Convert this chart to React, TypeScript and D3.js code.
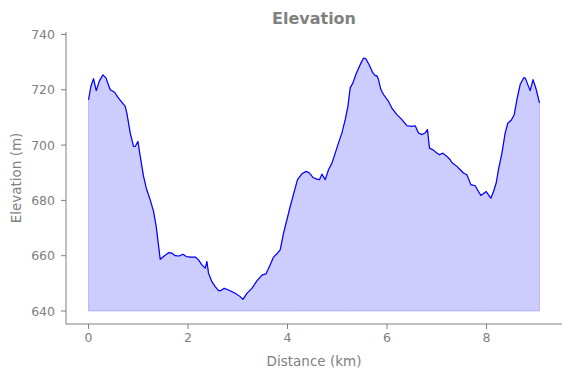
import React from "react";
import * as d3 from "d3";

const distanceKm = [
  0, 0.048, 0.10, 0.155, 0.221, 0.289, 0.35, 0.436, 0.523, 0.603, 0.738, 0.772, 0.838, 0.905, 0.939, 0.993,
  1.039, 1.106, 1.16, 1.24, 1.307, 1.361, 1.441, 1.508, 1.608, 1.676, 1.743, 1.823, 1.897, 1.964, 2.044,
  2.145, 2.211, 2.279, 2.346, 2.38, 2.412, 2.48, 2.547, 2.613, 2.661, 2.728, 2.814, 2.949, 3.049, 3.104,
  3.184, 3.284, 3.385, 3.485, 3.566, 3.652, 3.719, 3.799, 3.853, 3.92, 3.988, 4.054, 4.135, 4.201, 4.289,
  4.376, 4.442, 4.511, 4.591, 4.643, 4.692, 4.758, 4.824, 4.893, 4.959, 5.025, 5.094, 5.16, 5.214, 5.26,
  5.315, 5.381, 5.461, 5.528, 5.576, 5.648, 5.717, 5.763, 5.797, 5.829, 5.877, 5.93, 6.03, 6.098, 6.199,
  6.3, 6.4, 6.501, 6.567, 6.633, 6.702, 6.768, 6.814, 6.854, 6.923, 7.003, 7.055, 7.124, 7.204, 7.27,
  7.305, 7.405, 7.471, 7.538, 7.606, 7.686, 7.773, 7.839, 7.887, 7.994, 8.04, 8.088, 8.141, 8.195, 8.241,
  8.31, 8.376, 8.43, 8.497, 8.557, 8.611, 8.677, 8.746, 8.778, 8.878, 8.936, 9.0, 9.065,
];

const elevationM = [
  716.4, 721.3, 724, 719.7, 723.3, 725.4, 724.3, 720, 719.1, 717, 714, 711.4, 704.4, 699.5, 699.5, 701.3,
  696, 688.7, 684.5, 680.2, 676, 670.5, 658.7, 659.7, 661.1, 660.9, 660, 659.9, 660.5, 659.7, 659.5,
  659.5, 658.5, 656.7, 655.5, 657.9, 653.7, 650.6, 648.8, 647.4, 647.4, 648.2, 647.6, 646.4, 645.2, 644.2,
  646.4, 648.2, 650.9, 653, 653.4, 656.7, 659.5, 660.9, 662.1, 668.2, 673, 677.8, 683.2, 687.5, 689.6,
  690.5, 689.9, 688.3, 687.7, 687.5, 689.5, 687.5, 691.1, 693.5, 697.1, 700.8, 704.4, 709.2, 714, 720.7,
  722.5, 725.9, 729.1, 731.5, 731.2, 728.8, 726.1, 725.1, 725.1, 723.7, 720.1, 718.3, 715.8, 713.4, 711,
  709.2, 707, 706.8, 707, 704.4, 703.8, 704.4, 705.6, 698.9, 698.3, 697.1, 696.5, 697.1, 695.9, 694.7,
  693.7, 692.3, 691.1, 689.9, 689.3, 685.7, 685.3, 683.2, 681.8, 683.2, 682, 680.8, 683.2, 686.3, 691.1,
  697.1, 704.4, 708, 709, 711, 716.4, 721.9, 724.3, 724.3, 719.7, 723.7, 720.1, 715.3,
];

const baseElevation = 640;
const xTicks = [0, 2, 4, 6, 8];
const yTicks = [640, 660, 680, 700, 720, 740];
const titleText = "Elevation";
const xLabel = "Distance (km)";
const yLabel = "Elevation (m)";

const W = 571;
const H = 378;
const M = { left: 66, right: 562, top: 32, bottom: 324 };
const GRAY = "#808080";
const FONT = "DejaVu Sans, sans-serif";

export default function App() {
  const x = d3.scaleLinear().domain([-0.453, 9.518]).range([M.left, M.right]);
  const y = d3.scaleLinear().domain([635.3, 740.9]).range([M.bottom, M.top]);
  const pts: [number, number][] = distanceKm.map((d, i) => [d, elevationM[i]]);
  const line = d3.line<[number, number]>().x((d) => x(d[0])).y((d) => y(d[1]));
  const area = d3
    .area<[number, number]>()
    .x((d) => x(d[0]))
    .y0(() => y(baseElevation))
    .y1((d) => y(d[1]));

  return (
    <svg
      width={W}
      height={H}
      style={{ position: "absolute", left: 0, top: 0, background: "#fff" }}
      fontFamily={FONT}
    >
      <path d={area(pts) + "Z"} fill="blue" fillOpacity={0.2} stroke="blue" strokeOpacity={0.2} strokeWidth={1} />
      <path d={line(pts) || ""} fill="none" stroke="blue" strokeWidth={1.2} strokeLinejoin="round" />
      {/* spines */}
      <line x1={M.left} x2={M.left} y1={M.top} y2={M.bottom} stroke={GRAY} strokeWidth={1} />
      <line x1={M.left} x2={M.right} y1={M.bottom} y2={M.bottom} stroke={GRAY} strokeWidth={1} />
      {xTicks.map((t) => (
        <g key={"x" + t} transform={`translate(${x(t)},${M.bottom})`}>
          <line y1={0} y2={5} stroke={GRAY} strokeWidth={1} />
          <text y={18} textAnchor="middle" fill={GRAY} fontSize={12.5}>
            {t}
          </text>
        </g>
      ))}
      {yTicks.map((t) => (
        <g key={"y" + t} transform={`translate(${M.left},${y(t)})`}>
          <line x1={0} x2={-5} stroke={GRAY} strokeWidth={1} />
          <text x={-11} dy="0.36em" textAnchor="end" fill={GRAY} fontSize={12.5}>
            {t}
          </text>
        </g>
      ))}
      <text x={(M.left + M.right) / 2} y={366} textAnchor="middle" fill={GRAY} fontSize={13.5}>
        {xLabel}
      </text>
      <text
        transform={`translate(21,${(M.top + M.bottom) / 2}) rotate(-90)`}
        textAnchor="middle"
        fill={GRAY}
        fontSize={13.5}
      >
        {yLabel}
      </text>
      <text x={(M.left + M.right) / 2} y={24} textAnchor="middle" fill={GRAY} fontSize={16} fontWeight="bold">
        {titleText}
      </text>
    </svg>
  );
}
